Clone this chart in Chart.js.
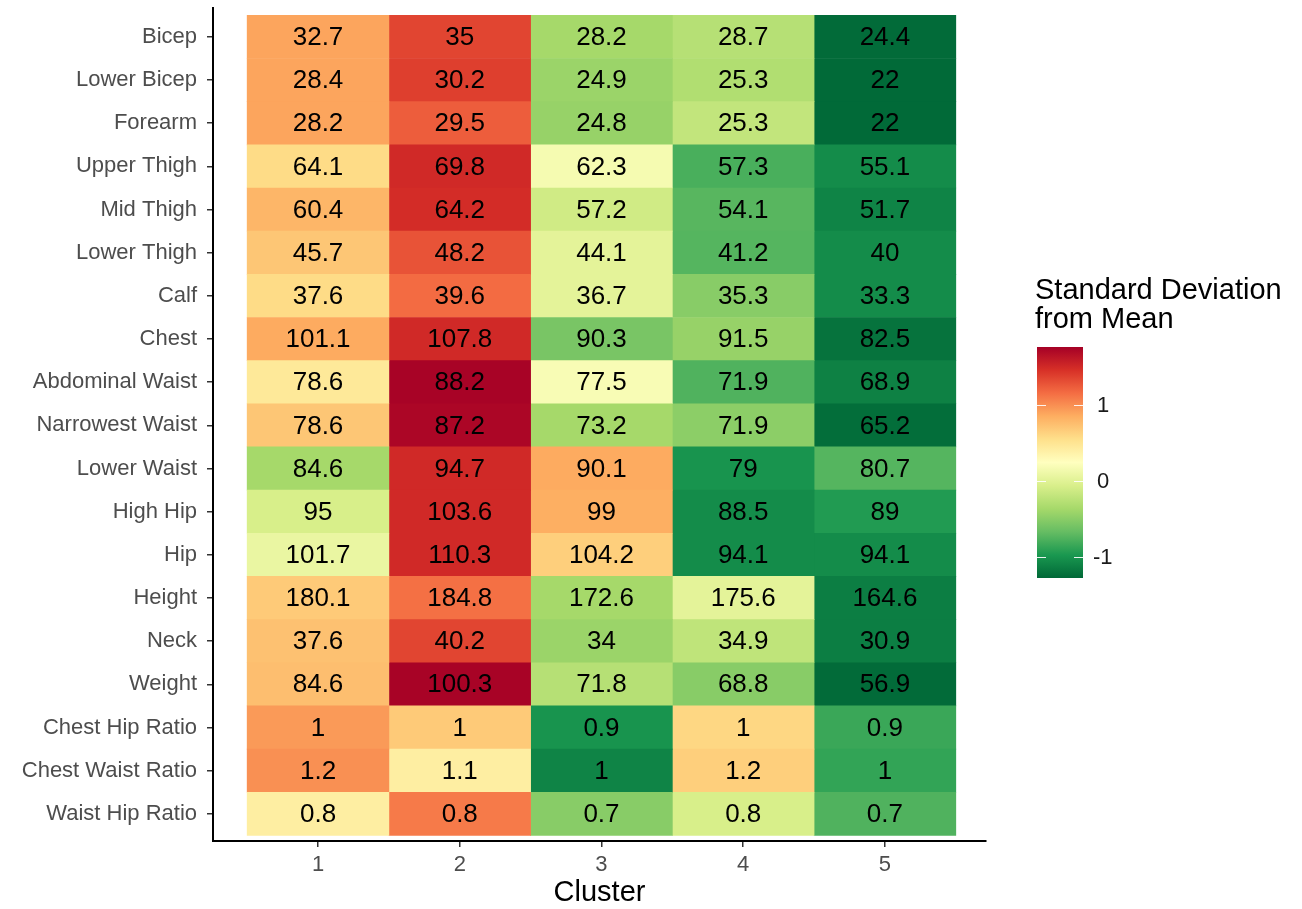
<!DOCTYPE html>
<html>
<head>
<meta charset="utf-8">
<script src="https://cdn.jsdelivr.net/npm/chart.js@4.4.1/dist/chart.umd.min.js"></script>
<style>
html,body{margin:0;padding:0;background:#fff;}
#wrap{width:1302px;height:909px;position:relative;}
</style>
</head>
<body>
<div id="wrap"><canvas id="c"></canvas></div>
<script>
// ---------- DATA ----------
const rowLabels = ['Bicep','Lower Bicep','Forearm','Upper Thigh','Mid Thigh','Lower Thigh','Calf','Chest',
  'Abdominal Waist','Narrowest Waist','Lower Waist','High Hip','Hip','Height','Neck','Weight',
  'Chest Hip Ratio','Chest Waist Ratio','Waist Hip Ratio'];
const clusterLabels = ['1','2','3','4','5'];

// cluster means (printed numbers)
const meanC1 = [32.7, 28.4, 28.2, 64.1, 60.4, 45.7, 37.6, 101.1, 78.6, 78.6, 84.6, 95, 101.7, 180.1, 37.6, 84.6, 1, 1.2, 0.8];
const meanC2 = [35, 30.2, 29.5, 69.8, 64.2, 48.2, 39.6, 107.8, 88.2, 87.2, 94.7, 103.6, 110.3, 184.8, 40.2, 100.3, 1, 1.1, 0.8];
const meanC3 = [28.2, 24.9, 24.8, 62.3, 57.2, 44.1, 36.7, 90.3, 77.5, 73.2, 90.1, 99, 104.2, 172.6, 34, 71.8, 0.9, 1, 0.7];
const meanC4 = [28.7, 25.3, 25.3, 57.3, 54.1, 41.2, 35.3, 91.5, 71.9, 71.9, 79, 88.5, 94.1, 175.6, 34.9, 68.8, 1, 1.2, 0.8];
const meanC5 = [24.4, 22, 22, 55.1, 51.7, 40, 33.3, 82.5, 68.9, 65.2, 80.7, 89, 94.1, 164.6, 30.9, 56.9, 0.9, 1, 0.7];

// standard deviation from mean (fill colour)
const zC1 = [0.89, 0.89, 0.89, 0.57, 0.80, 0.70, 0.57, 0.86, 0.46, 0.70, -0.37, -0.07, 0.07, 0.68, 0.73, 0.75, 0.94, 0.99, 0.41];
const zC2 = [1.35, 1.38, 1.23, 1.50, 1.48, 1.28, 1.16, 1.50, 1.74, 1.72, 1.50, 1.50, 1.50, 1.14, 1.35, 1.74, 0.68, 0.41, 1.09];
const zC3 = [-0.37, -0.42, -0.44, 0.16, -0.12, 0.02, 0.02, -0.58, 0.18, -0.37, 0.86, 0.84, 0.65, -0.37, -0.42, -0.27, -1.00, -1.10, -0.51];
const zC4 = [-0.27, -0.30, -0.20, -0.79, -0.73, -0.74, -0.51, -0.44, -0.76, -0.49, -1.00, -1.05, -1.05, 0.02, -0.22, -0.51, 0.60, 0.65, -0.07];
const zC5 = [-1.26, -1.27, -1.27, -1.05, -1.10, -1.05, -1.05, -1.21, -1.12, -1.24, -0.74, -0.95, -1.05, -1.14, -1.14, -1.26, -0.85, -0.88, -0.76];

const legendTicks = [1, 0, -1];
const legendTitle = ['Standard Deviation', 'from Mean'];
const zMin = -1.28, zMax = 1.76;

// ---------- STYLE ----------
const FONT = '"Liberation Sans", Arial, Helvetica, sans-serif';
const PALETTE = ['#006837','#1a9850','#66bd63','#a6d96a','#d9ef8b','#ffffbf','#fee08b','#fdae61','#f46d43','#d73027','#a50026'];

function hexToRgb(h){ const n = parseInt(h.slice(1),16); return [(n>>16)&255,(n>>8)&255,n&255]; }
function colorFor(z){
  let t = (z - zMin) / (zMax - zMin);
  t = Math.max(0, Math.min(1, t));
  const p = t * (PALETTE.length - 1);
  const i = Math.min(Math.floor(p), PALETTE.length - 2);
  const f = p - i;
  const a = hexToRgb(PALETTE[i]), b = hexToRgb(PALETTE[i+1]);
  const c = a.map((v,k)=>Math.round(v + (b[k]-v)*f));
  return `rgb(${c[0]},${c[1]},${c[2]})`;
}

const meanCols = [meanC1, meanC2, meanC3, meanC4, meanC5];
const zCols = [zC1, zC2, zC3, zC4, zC5];

const datasets = clusterLabels.map((c, ci) => ({
  label: c,
  data: rowLabels.map((r, ri) => ({ y: ri, x: [ci + 0.5, ci + 1.5] })),
  backgroundColor: zCols[ci].map(colorFor),
  borderWidth: 0,
  barPercentage: 1,
  categoryPercentage: 1,
  grouped: false,
  means: meanCols[ci]
}));

const cellText = {
  id: 'cellText',
  afterDatasetsDraw(chart){
    const ctx = chart.ctx;
    ctx.save();
    ctx.font = `26px ${FONT}`;
    ctx.fillStyle = '#000';
    ctx.textAlign = 'center';
    ctx.textBaseline = 'middle';
    chart.data.datasets.forEach((ds, di) => {
      const meta = chart.getDatasetMeta(di);
      meta.data.forEach((el, i) => {
        const p = el.getProps(['x','base','y'], true);
        ctx.fillText(String(ds.means[i]), (p.x + p.base) / 2, p.y + 1);
      });
    });
    ctx.restore();
  }
};

const colorBar = {
  id: 'colorBar',
  afterDraw(chart){
    const ctx = chart.ctx;
    const bx = 1037, bw = 46, by = 347, bh = 231;
    const yFor = v => by + (zMax - v) / (zMax - zMin) * bh;
    ctx.save();
    // title
    ctx.fillStyle = '#000';
    ctx.font = `29px ${FONT}`;
    ctx.textAlign = 'left';
    ctx.textBaseline = 'alphabetic';
    legendTitle.forEach((t, i) => ctx.fillText(t, 1035, 299 + i * 29));
    // gradient
    const g = ctx.createLinearGradient(0, by + bh, 0, by);
    PALETTE.forEach((c, i) => g.addColorStop(i / (PALETTE.length - 1), c));
    ctx.fillStyle = g;
    ctx.fillRect(bx, by, bw, bh);
    // ticks
    ctx.strokeStyle = 'rgba(255,255,255,0.9)';
    ctx.lineWidth = 1;
    legendTicks.forEach(v => {
      const y = Math.round(yFor(v)) + 0.5;
      ctx.beginPath();
      ctx.moveTo(bx, y); ctx.lineTo(bx + 9, y);
      ctx.moveTo(bx + bw - 9, y); ctx.lineTo(bx + bw, y);
      ctx.stroke();
    });
    // labels
    ctx.fillStyle = '#1a1a1a';
    ctx.font = `22px ${FONT}`;
    ctx.textBaseline = 'middle';
    legendTicks.forEach(v => {
      ctx.fillText(String(v), v < 0 ? 1093 : 1097, yFor(v) + 1);
    });
    ctx.restore();
  }
};

new Chart(document.getElementById('c'), {
  type: 'bar',
  data: { datasets },
  plugins: [cellText, colorBar],
  options: {
    indexAxis: 'y',
    responsive: true,
    maintainAspectRatio: false,
    animation: false,
    events: [],
    layout: { padding: { left: 0, top: 8, right: 316, bottom: 0 } },
    plugins: { legend: { display: false }, tooltip: { enabled: false } },
    scales: {
      x: {
        type: 'linear',
        offset: false,
        min: 0.259, max: 5.713,
        afterBuildTicks: s => { s.ticks = clusterLabels.map((_, i) => ({ value: i + 1 })); },
        ticks: {
          callback: (v, i) => clusterLabels[i],
          color: '#4d4d4d',
          font: { family: FONT, size: 22 },
          padding: 5,
          maxRotation: 0,
          autoSkip: false
        },
        grid: { offset: false, drawOnChartArea: false, drawTicks: true, tickLength: 6, color: '#333', lineWidth: 1.5 },
        border: { display: true, color: '#000', width: 2 },
        title: { display: true, text: 'Cluster', color: '#000', font: { family: FONT, size: 29, lineHeight: 1.1 }, padding: { top: 0, bottom: 0 } },
        afterFit: s => { s.height = 68; s.paddingLeft = 0; s.paddingRight = 0; }
      },
      y: {
        type: 'linear',
        offset: false,
        reverse: true,
        min: -0.67, max: 18.63,
        afterBuildTicks: s => { s.ticks = rowLabels.map((_, i) => ({ value: i })); },
        ticks: {
          callback: (v, i) => rowLabels[i],
          color: '#4d4d4d',
          font: { family: FONT, size: 22 },
          padding: 10,
          autoSkip: false
        },
        grid: { offset: false, drawOnChartArea: false, drawTicks: true, tickLength: 6, color: '#333', lineWidth: 1.5 },
        border: { display: true, color: '#000', width: 2 },
        afterFit: s => { s.width = 213; s.paddingTop = 0; s.paddingBottom = 0; }
      }
    }
  }
});
</script>
</body>
</html>
